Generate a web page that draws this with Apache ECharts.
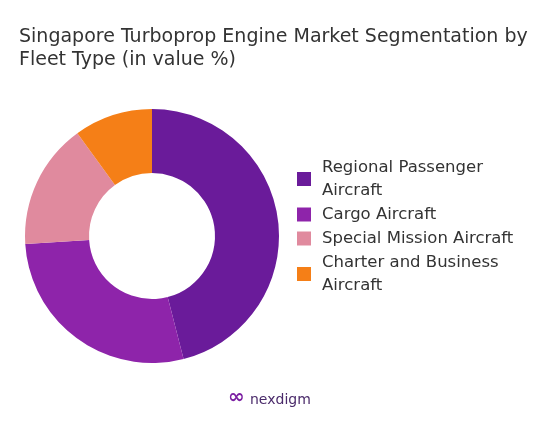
<!DOCTYPE html>
<html><head><meta charset="utf-8">
<script src="https://cdn.jsdelivr.net/npm/echarts@6/dist/echarts.min.js"></script>
<style>html,body{margin:0;padding:0;background:#fff}#c{width:551px;height:432px}</style>
</head><body><div id="c"></div>
<script>
const categories = ["Regional Passenger\nAircraft", "Cargo Aircraft", "Special Mission Aircraft", "Charter and Business\nAircraft"];
const values = [46, 28, 16, 10];
const colors = ["#6a1b9a", "#8e24aa", "#e08a9e", "#f57f17"];
const chart = echarts.init(document.getElementById('c'));
chart.setOption({
  title: {text: "Singapore Turboprop Engine Market Segmentation by\nFleet Type (in value %)", left: 14, top: 21,
    textStyle: {fontFamily: "DejaVu Sans", fontSize: 19, fontWeight: 'normal', color: '#333', lineHeight: 23}},
  graphic: [{type: 'text', left: 250, top: 393, style: {text: 'nexdigm', font: '14px DejaVu Sans', fill: '#4a2a6a'}},
            {type: 'text', left: 228, top: 388, style: {text: '\u221e', font: 'bold 20px DejaVu Sans', fill: '#7b1fa2'}}],
  legend: {orient: 'vertical', left: 292, top: 151, itemWidth: 14, itemHeight: 14, itemGap: 1, icon: 'rect',
    textStyle: {fontFamily: "DejaVu Sans", fontSize: 16.5, color: '#333', lineHeight: 23, padding: [0,0,0,6]}},
  series: [{type: 'pie', center: [152, 236], radius: [63, 127], startAngle: 90, clockwise: true,
    label: {show: false}, labelLine: {show: false}, silent: true,
    data: categories.map((n, i) => ({name: n, value: values[i], itemStyle: {color: colors[i]}}))}]
});
</script></body></html>
